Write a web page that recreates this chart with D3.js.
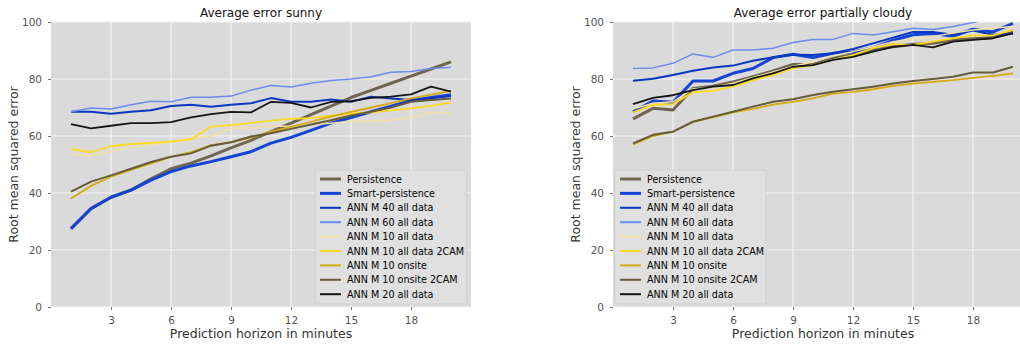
<!DOCTYPE html>
<html>
<head>
<meta charset="utf-8">
<script src="https://cdn.jsdelivr.net/npm/d3@7"></script>
<style>
  body { margin: 0; background: #fff; }
  svg { display: block; font-family: "DejaVu Sans", sans-serif; }
</style>
</head>
<body>
<div id="chart"></div>
<script>
// prediction horizon (minutes)
const horizon = [1, 2, 3, 4, 5, 6, 7, 8, 9, 10, 11, 12, 13, 14, 15, 16, 17, 18, 19, 20];
const xTicks = [3, 6, 9, 12, 15, 18];
const yTicks = [0, 20, 40, 60, 80, 100];

const seriesNames = [
    'Persistence', 'Smart-persistence', 'ANN M 40 all data', 'ANN M 60 all data',
    'ANN M 10 all data', 'ANN M 10 all data 2CAM', 'ANN M 10 onsite',
    'ANN M 10 onsite 2CAM', 'ANN M 20 all data'
];

// sunny
const sunnyPersistence = [27.5, 34.5, 38.5, 41, 45, 48.5, 50.5, 53, 55.8, 58.5, 61.5, 64.5, 67.5, 70.5, 73.5, 76, 78.5, 81, 83.5, 86];
const sunnySmart = [27.5, 34.5, 38.5, 41, 44.5, 47.5, 49.5, 51, 52.7, 54.5, 57.5, 59.5, 62, 64.5, 66.5, 68.5, 70.5, 72.5, 73.5, 74.5];
const sunnyM40 = [68.5, 68.5, 67.8, 68.5, 69, 70.5, 71, 70.3, 71, 71.5, 73.3, 72, 72, 72.8, 72, 73.8, 73.2, 72.6, 73.2, 74];
const sunnyM60 = [68.5, 69.8, 69.5, 71, 72.2, 72, 73.6, 73.6, 74, 76.1, 77.7, 77.2, 78.5, 79.5, 80, 80.8, 82.4, 82.6, 83.7, 84.1];
const sunnyM10 = [53.6, 53.1, 54.5, 56.1, 56.8, 57.8, 59.2, 60, 62.7, 62.9, 63.3, 63.5, 64, 64.5, 65.2, 65.2, 65.6, 66.5, 68.3, 67.9];
const sunnyM10cam = [55.4, 54.3, 56.4, 57.2, 57.6, 58, 58.8, 63.3, 63.8, 64.6, 65.4, 66, 66.3, 67.1, 67.8, 68.3, 69, 69.7, 70.6, 71.8];
const sunnyOnsite = [38.1, 42.5, 45.7, 48.1, 50.4, 52.7, 54.3, 56.8, 57.8, 59.4, 61.5, 63.2, 65, 66.8, 68.5, 70, 71.5, 73.2, 74.5, 75.8];
const sunnyOnsiteCam = [40.5, 44, 46.2, 48.5, 50.9, 52.7, 53.9, 56.6, 57.8, 59.8, 61, 62.5, 64, 65.5, 67.2, 68.5, 70, 72, 72.6, 73.2];
const sunnyM20 = [64.2, 62.7, 63.6, 64.5, 64.5, 64.9, 66.5, 67.7, 68.5, 68.3, 72, 71.6, 70, 72, 72.2, 73.4, 73.8, 74.6, 77.3, 75.6];

// partially cloudy
const cloudyPersistence = [66, 69.7, 69.1, 76.7, 77.5, 79, 80.8, 82.8, 85.1, 85.1, 87.2, 88.6, 90.2, 91.3, 92.2, 92.5, 93.7, 94.1, 94.6, 96.4];
const cloudySmart = [68.5, 72.3, 71.8, 79.3, 79.3, 82, 83.7, 87.5, 88.7, 87.5, 89, 89.5, 91, 93.5, 95.5, 96, 95, 97.5, 96.5, 99.5];
const cloudyM40 = [79.4, 80.1, 81.4, 82.9, 84, 84.7, 86.4, 87.6, 88.5, 88.4, 89, 90.5, 92.5, 94.5, 96.5, 96.5, 95.5, 97, 95.5, 96];
const cloudyM60 = [83.7, 83.9, 85.5, 88.8, 87.6, 90.2, 90.2, 90.8, 92.8, 93.9, 93.9, 96, 95.4, 96.6, 97.8, 97.4, 98.4, 99.8, 101.5, 102.5];
const cloudyM10 = [69.5, 71.5, 72, 76.5, 77, 78.5, 80.5, 82.5, 84.5, 86, 88.2, 89.6, 91.3, 93.1, 94.1, 94.9, 96.1, 97.2, 97.8, 98.4];
const cloudyM10cam = [68.3, 70.9, 71.2, 75.3, 75.8, 77.3, 79.6, 81.4, 83.7, 84.9, 86.7, 88.4, 90.8, 92.2, 92, 93.1, 94.3, 95.3, 95.3, 97.2];
const cloudyOnsite = [57, 60, 61.5, 65, 66.5, 68.3, 69.5, 71, 72, 73.2, 74.9, 75.5, 76.4, 77.6, 78.4, 79, 79.6, 80.4, 81.1, 82];
const cloudyOnsiteCam = [57.4, 60.4, 61.5, 65, 66.8, 68.5, 70.3, 72, 72.9, 74.4, 75.5, 76.4, 77.3, 78.4, 79.3, 80, 80.8, 82.3, 82.3, 84.3];
const cloudyM20 = [71.2, 73.4, 74.3, 76.1, 77.3, 77.9, 80.2, 82, 84.3, 84.9, 86.7, 87.8, 89.6, 91.3, 92, 91.1, 93.1, 93.7, 94.3, 96];

// line styles, same order as seriesNames
const styles = [
    { color: '#6f6650', width: 3 },
    { color: '#1444d4', width: 3 },
    { color: '#0838c0', width: 2 },
    { color: '#6a8cf0', width: 1.5 },
    { color: '#f5dfa2', width: 1.5 },
    { color: '#ffda1a', width: 1.8 },
    { color: '#d6a90e', width: 1.8 },
    { color: '#665b3a', width: 2 },
    { color: '#161616', width: 1.8 }
];

const panels = [
    {
        title: 'Average error sunny', left: 51, legendX: 315,
        series: [sunnyPersistence, sunnySmart, sunnyM40, sunnyM60, sunnyM10, sunnyM10cam, sunnyOnsite, sunnyOnsiteCam, sunnyM20]
    },
    {
        title: 'Average error partially cloudy', left: 613, legendX: 615,
        series: [cloudyPersistence, cloudySmart, cloudyM40, cloudyM60, cloudyM10, cloudyM10cam, cloudyOnsite, cloudyOnsiteCam, cloudyM20]
    }
];

const W = 1020, H = 344;
const plotTop = 22, plotBottom = 307, plotW = 420;

const svg = d3.select('#chart').append('svg')
    .attr('width', W)
    .attr('height', H);

panels.forEach((p, pi) => {
    const x = d3.scaleLinear().domain([0, 21]).range([p.left, p.left + plotW]);
    const y = d3.scaleLinear().domain([0, 100]).range([plotBottom, plotTop]);
    const g = svg.append('g');

    g.append('rect')
        .attr('x', p.left).attr('y', plotTop)
        .attr('width', plotW).attr('height', plotBottom - plotTop)
        .attr('fill', '#dadada');

    // grid
    g.selectAll('.gy').data(yTicks).enter().append('line')
        .attr('x1', p.left).attr('x2', p.left + plotW)
        .attr('y1', d => y(d)).attr('y2', d => y(d))
        .attr('stroke', '#f4f4f4').attr('stroke-width', 1.2);
    g.selectAll('.gx').data(xTicks).enter().append('line')
        .attr('x1', d => x(d)).attr('x2', d => x(d))
        .attr('y1', plotTop).attr('y2', plotBottom)
        .attr('stroke', '#f4f4f4').attr('stroke-width', 1.2);

    // axes
    const ax = g.append('g')
        .attr('transform', `translate(0,${plotBottom})`)
        .call(d3.axisBottom(x).tickValues(xTicks).tickSize(3).tickPadding(7));
    const ay = g.append('g')
        .attr('transform', `translate(${p.left},0)`)
        .call(d3.axisLeft(y).tickValues(yTicks).tickSize(3).tickPadding(6));
    [ax, ay].forEach(a => {
        a.select('.domain').remove();
        a.selectAll('line').attr('stroke', '#777');
        a.selectAll('text').attr('fill', '#555').style('font-size', '10.5px')
            .style('font-family', '"DejaVu Sans", sans-serif');
    });

    // clip for the lines
    const clipId = 'clip' + pi;
    svg.append('clipPath').attr('id', clipId).append('rect')
        .attr('x', p.left).attr('y', plotTop)
        .attr('width', plotW).attr('height', plotBottom - plotTop);

    const line = d3.line()
        .x((_, i) => x(horizon[i]))
        .y(d => y(d));

    const lines = g.append('g').attr('clip-path', `url(#${clipId})`);
    p.series.forEach((s, i) => {
        lines.append('path')
            .datum(s)
            .attr('fill', 'none')
            .attr('stroke', styles[i].color)
            .attr('stroke-width', styles[i].width)
            .attr('stroke-linejoin', 'round')
            .attr('d', line);
    });

    // titles and labels
    const cx = p.left + plotW / 2;
    g.append('text')
        .attr('x', cx).attr('y', 17)
        .attr('text-anchor', 'middle')
        .style('font-size', '12px')
        .attr('fill', '#111')
        .text(p.title);
    g.append('text')
        .attr('x', cx).attr('y', 338)
        .attr('text-anchor', 'middle')
        .style('font-size', '12.5px')
        .attr('fill', '#333')
        .text('Prediction horizon in minutes');
    g.append('text')
        .attr('transform', `translate(${p.left - 33},${(plotTop + plotBottom) / 2}) rotate(-90)`)
        .attr('text-anchor', 'middle')
        .style('font-size', '12.5px')
        .attr('fill', '#333')
        .text('Root mean squared error');

    // legend
    const lg = g.append('g').attr('transform', `translate(${p.legendX},170)`);
    lg.append('rect')
        .attr('width', 151).attr('height', 134)
        .attr('rx', 2)
        .attr('fill', '#e0e0e0')
        .attr('stroke', '#d0d0d0');
    seriesNames.forEach((name, i) => {
        const ry = 9 + i * 14.4;
        lg.append('line')
            .attr('x1', 5).attr('x2', 26)
            .attr('y1', ry).attr('y2', ry)
            .attr('stroke', styles[i].color)
            .attr('stroke-width', Math.max(2, styles[i].width));
        lg.append('text')
            .attr('x', 32).attr('y', ry + 3.6)
            .style('font-size', '9.6px')
            .attr('fill', '#000')
            .text(name);
    });
});
</script>
</body>
</html>
